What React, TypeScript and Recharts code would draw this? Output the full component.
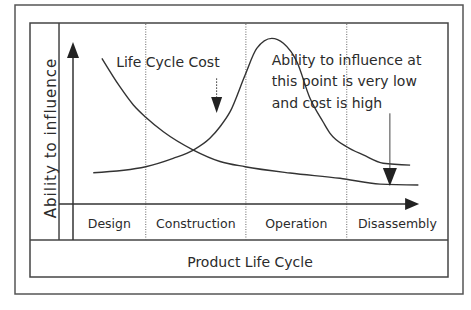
import { ComposedChart, Line, XAxis, YAxis, ReferenceLine, ReferenceDot } from 'recharts'

// life cycle runs 0..100 along x, ability / cost 0..100 up y
const PHASES = ['Design', 'Construction', 'Operation', 'Disassembly']
const PHASE_EDGES = [0, 19.4, 46.1, 73, 100]

const influenceX = [7.7, 12.5, 16.1, 19.4, 24.1, 32.1, 39.2, 45.9, 57.9, 71.2, 81.9, 92.1]
const influenceY = [80.5, 64.8, 54.7, 47.9, 39.9, 29.8, 23.5, 20.6, 17.1, 14.2, 11.0, 10.5]

const costX = [5.4, 19.4, 26.7, 32.1, 36.5, 39.2, 41.9, 45.9, 49.0, 53.0, 56.1, 59.7, 63.2, 66.7, 68.5, 73.1, 77.4, 82.7, 89.9]
const costY = [17.3, 20.6, 25.2, 29.8, 36.3, 42.7, 51.0, 71.3, 86.0, 91.5, 88.8, 78.6, 58.4, 45.3, 39.2, 31.5, 27.1, 22.5, 21.5]

const NOTE_LINES = ['Ability to influence at', 'this point is very low', 'and cost is high']

const influenceData = influenceX.map((x, i) => ({ x, y: influenceY[i] }))
const costData = costX.map((x, i) => ({ x, y: costY[i] }))
const phaseCenters = PHASES.map((_, i) => (PHASE_EDGES[i] + PHASE_EDGES[i + 1]) / 2)

// layout (data units) for the frame pieces that sit outside the plot
const ROW_BOTTOM = -19.9
const LABEL_COL = -3.73
const INK = '#2b2b2b'
const FONT = 'DejaVu Sans, sans-serif'

function Head({ cx, cy, dir, w, h }: { cx: number; cy: number; dir: string; w: number; h: number }) {
  let pts = ''
  if (dir === 'up') pts = `${cx},${cy} ${cx - w / 2},${cy + h} ${cx + w / 2},${cy + h}`
  if (dir === 'down') pts = `${cx},${cy} ${cx - w / 2},${cy - h} ${cx + w / 2},${cy - h}`
  if (dir === 'right') pts = `${cx},${cy} ${cx - h},${cy - w / 2} ${cx - h},${cy + w / 2}`
  return <polygon points={pts} fill="#222" />
}

function PhaseTick(props: any) {
  const i = phaseCenters.indexOf(props.payload.value)
  return (
    <text x={props.x} y={props.y + 22} textAnchor="middle" fontSize={12.5} fontFamily={FONT} fill={INK}>
      {PHASES[i]}
    </text>
  )
}

export default function App() {
  return (
    <div style={{ position: 'absolute', left: 0, top: 0, width: 471, height: 310, background: '#fff' }}>
      <ComposedChart width={471} height={310} margin={{ top: 23, right: 23, left: 73, bottom: 86 }}>
        <rect x={15} y={5} width={448} height={289} fill="none" stroke="#555" strokeWidth={1.5} />
        <rect x={30} y={23} width={418} height={254} fill="none" stroke="#444" strokeWidth={1.5} />
        <line x1={30} y1={240} x2={448} y2={240} stroke="#444" strokeWidth={1.5} />

        <XAxis
          type="number"
          dataKey="x"
          domain={[0, 100]}
          allowDataOverflow
          ticks={phaseCenters}
          interval={0}
          tick={<PhaseTick />}
          tickLine={false}
          axisLine={false}
          tickSize={0}
          height={20}
        />
        <YAxis type="number" dataKey="y" domain={[0, 100]} allowDataOverflow hide />

        {PHASE_EDGES.slice(1, 4).map((x) => (
          <ReferenceLine
            key={x}
            segment={[{ x, y: ROW_BOTTOM }, { x, y: 100 }]}
            ifOverflow="visible"
            stroke="#666"
            strokeDasharray="1 1.5"
          />
        ))}

        {/* label column + axes with arrows */}
        <ReferenceLine segment={[{ x: LABEL_COL, y: ROW_BOTTOM }, { x: LABEL_COL, y: 100 }]} ifOverflow="visible" stroke="#444" strokeWidth={1.5} />
        <ReferenceLine segment={[{ x: 0, y: ROW_BOTTOM }, { x: 0, y: 82 }]} ifOverflow="visible" stroke="#333" strokeWidth={1.5} />
        <ReferenceDot x={0} y={89.5} r={0} ifOverflow="visible" shape={(p: any) => <Head cx={p.cx} cy={p.cy} dir="up" w={12} h={16} />} />
        <ReferenceLine segment={[{ x: LABEL_COL, y: 0 }, { x: 90, y: 0 }]} ifOverflow="visible" stroke="#333" strokeWidth={1.5} />
        <ReferenceDot x={92.3} y={0} r={0} ifOverflow="visible" shape={(p: any) => <Head cx={p.cx} cy={p.cy} dir="right" w={12} h={14} />} />

        <Line data={costData} dataKey="y" type="monotone" stroke="#333" strokeWidth={1.4} dot={false} isAnimationActive={false} />
        <Line data={influenceData} dataKey="y" type="monotone" stroke="#333" strokeWidth={1.4} dot={false} isAnimationActive={false} />

        {/* annotation arrows */}
        <ReferenceLine segment={[{ x: 38.3, y: 69.4 }, { x: 38.3, y: 58 }]} ifOverflow="visible" stroke="#333" strokeDasharray="1.5 1.5" />
        <ReferenceDot x={38.3} y={50.3} r={0} ifOverflow="visible" shape={(p: any) => <Head cx={p.cx} cy={p.cy} dir="down" w={11} h={16} />} />
        <ReferenceLine segment={[{ x: 84.5, y: 50.1 }, { x: 84.5, y: 19 }]} ifOverflow="visible" stroke="#444" />
        <ReferenceDot x={84.5} y={9.9} r={0} ifOverflow="visible" shape={(p: any) => <Head cx={p.cx} cy={p.cy} dir="down" w={14} h={18} />} />

        {/* texts */}
        <ReferenceDot
          x={11.5}
          y={75.7}
          r={0}
          ifOverflow="visible"
          shape={(p: any) => (
            <text x={p.cx} y={p.cy} fontSize={14} fontFamily={FONT} fill={INK}>
              Life Cycle Cost
            </text>
          )}
        />
        <ReferenceDot
          x={53}
          y={76.8}
          r={0}
          ifOverflow="visible"
          shape={(p: any) => (
            <text x={p.cx} y={p.cy} fontSize={14} fontFamily={FONT} fill={INK}>
              {NOTE_LINES.map((t, i) => (
                <tspan key={t} x={p.cx} dy={i === 0 ? 0 : 21.5}>
                  {t}
                </tspan>
              ))}
            </text>
          )}
        />
        <ReferenceDot
          x={-5.87}
          y={36.5}
          r={0}
          ifOverflow="visible"
          shape={(p: any) => (
            <text
              x={p.cx}
              y={p.cy}
              transform={`rotate(-90 ${p.cx} ${p.cy})`}
              textAnchor="middle"
              dominantBaseline="central"
              fontSize={15}
              letterSpacing={1}
              fontFamily={FONT}
              fill={INK}
            >
              Ability to influence
            </text>
          )}
        />
        <ReferenceDot
          x={47.2}
          y={-34.8}
          r={0}
          ifOverflow="visible"
          shape={(p: any) => (
            <text x={p.cx} y={p.cy} textAnchor="middle" fontSize={14} fontFamily={FONT} fill={INK}>
              Product Life Cycle
            </text>
          )}
        />
      </ComposedChart>
    </div>
  )
}
